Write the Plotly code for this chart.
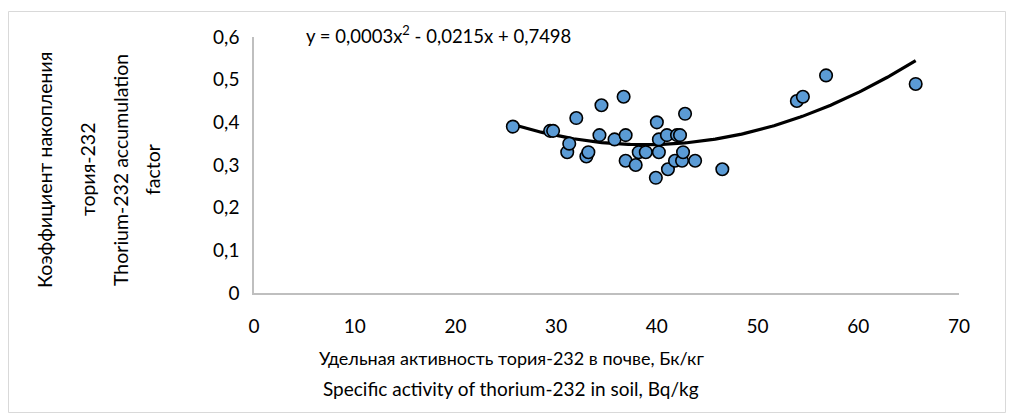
import numpy as np
import plotly.graph_objects as go

# Specific activity of Th-232 in soil, Bq/kg
activity = [25.7, 29.4, 29.7, 31.1, 31.3, 32.0, 33.0, 33.2, 34.3, 34.5,
            35.8, 36.7, 36.9, 36.9, 37.9, 38.2, 38.9, 39.9, 40.0, 40.2,
            40.2, 41.0, 41.1, 41.8, 42.0, 42.3, 42.5, 42.6, 42.8, 43.8,
            46.5, 53.9, 54.5, 56.8, 65.7]
# Accumulation factor
factor = [0.39, 0.38, 0.38, 0.33, 0.35, 0.41, 0.32, 0.33, 0.37, 0.44,
          0.36, 0.46, 0.37, 0.31, 0.30, 0.33, 0.33, 0.27, 0.40, 0.33,
          0.36, 0.37, 0.29, 0.31, 0.37, 0.37, 0.31, 0.33, 0.42, 0.31,
          0.29, 0.45, 0.46, 0.51, 0.49]

x_ticks = [0, 10, 20, 30, 40, 50, 60, 70]
y_ticks = [0, 0.1, 0.2, 0.3, 0.4, 0.5, 0.6]
y_ticktext = ["0", "0,1", "0,2", "0,3", "0,4", "0,5", "0,6"]

equation = "y = 0,0003x<sup>2</sup> - 0,0215x + 0,7498"
x_title = ["Удельная активность тория-232 в почве, Бк/кг",
           "Specific activity of thorium-232 in soil, Bq/kg"]
y_title = ["Коэффициент накопления", "тория-232",
           "Thorium-232 accumulation", "factor"]

FONT = "Lato"
W, H = 1014, 419
L, R, T, B = 254, 55, 37, 126
PW, PH = W - L - R, H - T - B


def px(xp):
    return (xp - L) / PW


def py(yp):
    return (H - B - yp) / PH


coef = np.polyfit(activity, factor, 2)
xs = np.linspace(min(activity), max(activity), 200)
ys = np.polyval(coef, xs)

fig = go.Figure()
fig.add_trace(go.Scatter(x=xs, y=ys, mode="lines",
                         line=dict(color="black", width=3.2),
                         hoverinfo="skip", showlegend=False))
fig.add_trace(go.Scatter(x=activity, y=factor, mode="markers",
                         marker=dict(size=12.5, color="#5B9BD5",
                                     line=dict(color="black", width=1.6)),
                         showlegend=False))

annotations = [
    dict(text=equation, x=px(438), y=py(34), xref="paper", yref="paper",
         showarrow=False, font=dict(family=FONT, size=18.5, color="black"),
         xanchor="center", yanchor="middle"),
]
for t, yy, fs in zip(x_title, [358, 388], [18, 19]):
    annotations.append(dict(text=t, x=px(511), y=py(yy), xref="paper", yref="paper",
                            showarrow=False, font=dict(family=FONT, size=fs, color="black"),
                            xanchor="center", yanchor="middle"))
for t, xx in zip(y_title, [44, 87, 120, 152]):
    annotations.append(dict(text=t, x=px(xx), y=py(170), xref="paper", yref="paper",
                            showarrow=False, textangle=-90,
                            font=dict(family=FONT, size=19.5, color="black"),
                            xanchor="center", yanchor="middle"))

fig.update_layout(
    width=W, height=H,
    margin=dict(l=L, r=R, t=T, b=B, pad=0),
    paper_bgcolor="white", plot_bgcolor="white",
    font=dict(family=FONT, size=19, color="black"),
    annotations=annotations,
    shapes=[dict(type="rect", xref="paper", yref="paper",
                 x0=px(8.5), x1=px(1005.5), y0=py(412.5), y1=py(11.5),
                 line=dict(color="#D9D9D9", width=1), layer="below")],
    xaxis=dict(range=[0, 70], tickvals=x_ticks, showgrid=False, zeroline=False,
               showline=True, linecolor="#BFBFBF", linewidth=1.5,
               ticks="", ticklabelstandoff=15, fixedrange=True),
    yaxis=dict(range=[0, 0.6], tickvals=y_ticks, ticktext=y_ticktext,
               showgrid=False, zeroline=False,
               showline=True, linecolor="#BFBFBF", linewidth=1.5,
               ticks="", ticklabelstandoff=9, fixedrange=True),
)

fig.write_html("out.html")
